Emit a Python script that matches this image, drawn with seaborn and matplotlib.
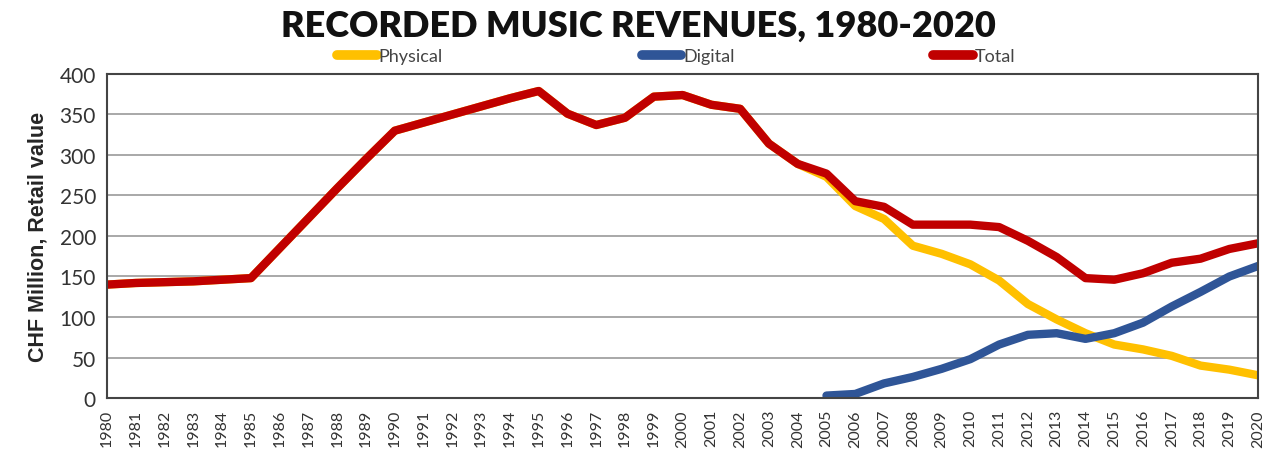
import numpy as np
import pandas as pd
import matplotlib
matplotlib.use("Agg")
import matplotlib.pyplot as plt
import seaborn as sns
from matplotlib.lines import Line2D

years = list(range(1980, 2021))

total = [140, 142, 143, 144, 146, 148, 185, 222, 259, 295,
         330, 340, 350, 360, 370, 379, 351, 337, 346, 372,
         374, 362, 357, 314, 289, 277, 243, 236, 214, 214,
         214, 211, 194, 174, 148, 146, 154, 167, 172, 184,
         191]

physical = total[:25] + [273, 237, 221, 188, 178, 165, 145, 116, 97, 80,
                         66, 60, 52, 40, 35, 28]

digital = [np.nan] * 25 + [3, 5, 18, 26, 36, 48, 66, 78, 80, 73,
                           80, 93, 113, 131, 150, 163]

df = pd.DataFrame({"Year": years, "Physical": physical, "Digital": digital, "Total": total})
long = df.melt(id_vars="Year", var_name="Series", value_name="Value")

sns.set_style("white")
plt.rcParams['font.family'] = ['Lato', 'DejaVu Sans']

fig = plt.figure(figsize=(12.76, 4.6), dpi=100)
ax = fig.add_axes([0.0839, 0.1326, 0.9021, 0.7044])

palette = {"Physical": "#FFC000", "Digital": "#2F5597", "Total": "#C00000"}
sns.lineplot(data=long, x="Year", y="Value", hue="Series", palette=palette,
             linewidth=6, ax=ax, legend=False, solid_capstyle="round")

ax.set_xlim(1980, 2020)
ax.set_ylim(0, 400)
ax.set_yticks(range(0, 401, 50))
ax.set_xticks(years)
ax.set_xticklabels([str(y) for y in years], rotation=90, fontsize=11.5, color="#333333")
ax.tick_params(axis="y", labelsize=15, colors="#333333", length=0, pad=8)
ax.tick_params(axis="x", direction="out", length=5, width=1, color="#555555", pad=3)
ax.yaxis.grid(True, color="#999999", linewidth=1.2)
ax.set_axisbelow(True)
for s in ax.spines.values():
    s.set_color("#444444")
    s.set_linewidth(1.5)

ax.set_xlabel("")
ax.set_ylabel("CHF Million, Retail value", fontsize=15.5, fontweight="bold", labelpad=8,
              family=["Liberation Sans", "DejaVu Sans"])

fig.text(0.5, 0.942, "RECORDED MUSIC REVENUES, 1980-2020", ha="center", va="center",
         fontsize=26, fontweight="heavy", color="#111111")

handles = [Line2D([], [], color=palette[k], linewidth=7, solid_capstyle="round") for k in palette]
fig.legend(handles, list(palette), loc="center", bbox_to_anchor=(0.53, 0.876), ncol=3,
           frameon=False, fontsize=13, handlelength=2.2, handletextpad=0.1,
           columnspacing=11, labelcolor="#444444")

fig.savefig("out.png", dpi=100)
